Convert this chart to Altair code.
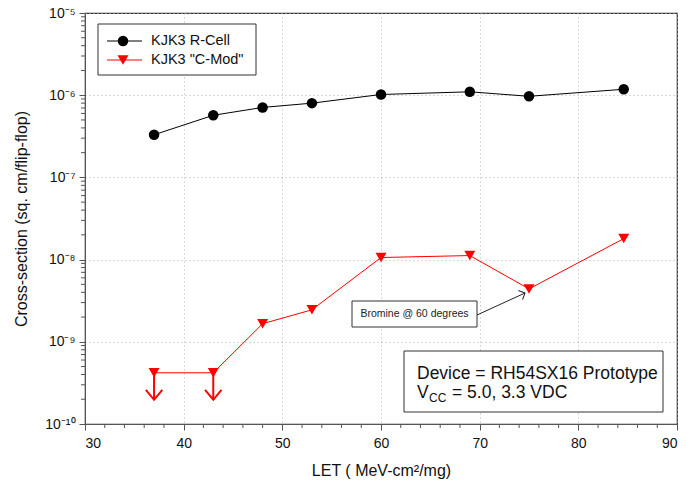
import json
import altair as alt
import pandas as pd

FONT = "Liberation Sans"

# ---- data ----
series_names = ["KJK3 R-Cell", 'KJK3 "C-Mod"']
let_r = [37, 43, 48, 53, 60, 69, 75, 84.6]
xs_r = [3.3e-7, 5.7e-7, 7.1e-7, 8.0e-7, 1.02e-6, 1.1e-6, 0.97e-6, 1.18e-6]
let_c = [37, 43, 48, 53, 60, 69, 75, 84.6]
xs_c = [4.2e-10, 4.2e-10, 1.66e-9, 2.45e-9, 1.06e-8, 1.12e-8, 4.4e-9, 1.8e-8]
limit_let = [37, 43]
limit_from = [4.2e-10, 4.2e-10]
limit_to = [1.97e-10, 1.97e-10]

x_ticks = [30, 40, 50, 60, 70, 80, 90]
x_minor = [v for v in range(30, 91, 2) if v % 10 != 0]
y_ticks = [1e-10, 1e-9, 1e-8, 1e-7, 1e-6, 1e-5]
y_labels = ["10⁻¹⁰", "10⁻⁹", "10⁻⁸", "10⁻⁷", "10⁻⁶", "10⁻⁵"]
y_minor = [m * 10.0 ** e for e in range(-10, -5) for m in range(2, 10)]

W, H = 592, 411

df_r = pd.DataFrame({"let": let_r, "xs": xs_r})
df_c = pd.DataFrame({"let": let_c, "xs": xs_c})
df_lim = pd.DataFrame({"let": limit_let, "lo": limit_to, "hi": limit_from})
one = pd.DataFrame({"k": [0]})

xscale = alt.Scale(domain=[30, 90], nice=False, zero=False)
yscale = alt.Scale(type="log", domain=[1e-10, 1e-5], nice=False)

label_expr = json.dumps(y_labels, ensure_ascii=False) + "[round(log(datum.value)/LN10)+10]"

xaxis = alt.Axis(values=x_ticks, title="LET ( MeV-cm²/mg)", grid=True,
                 gridDash=[1, 3], gridColor="#b0b0b0", tickSize=6,
                 labelFontSize=14, titleFontSize=16, labelPadding=6,
                 titlePadding=12, domainColor="#555", tickColor="#555",
                 labelColor="#111", titleColor="#111", format="d",
                 labelFont=FONT, titleFont=FONT, titleFontWeight="normal")
yaxis = alt.Axis(values=y_ticks, title="Cross-section (sq. cm/flip-flop)", grid=True,
                 gridDash=[1, 3], gridColor="#b0b0b0", tickSize=6,
                 labelFontSize=14, titleFontSize=16, labelPadding=4,
                 titlePadding=15, domainColor="#555", tickColor="#555",
                 labelColor="#111", titleColor="#111", labelExpr=label_expr,
                 labelFont=FONT, titleFont=FONT, titleFontWeight="normal")

X = lambda f: alt.X(f"{f}:Q", scale=xscale, axis=xaxis)
Y = lambda f: alt.Y(f"{f}:Q", scale=yscale, axis=yaxis)

# minor ticks
ymin_df = pd.DataFrame({"v": y_minor})
xmin_df = pd.DataFrame({"v": x_minor})
yminor = alt.Chart(ymin_df).mark_rule(color="#555").encode(
    y=Y("v"), x=alt.value(-4), x2=alt.value(0))
xminor = alt.Chart(xmin_df).mark_rule(color="#555").encode(
    x=X("v"), y=alt.value(H), y2=alt.value(H + 4))

line_r = alt.Chart(df_r).mark_line(color="black", strokeWidth=1).encode(x=X("let"), y=Y("xs"))
pts_r = alt.Chart(df_r).mark_point(shape="circle", filled=True, color="black", size=110, opacity=1).encode(
    x=X("let"), y=Y("xs"))
line_c = alt.Chart(df_c).mark_line(color="red", strokeWidth=1).encode(x=X("let"), y=Y("xs"))
pts_c = alt.Chart(df_c).mark_point(shape="triangle-down", filled=True, color="red", size=120, opacity=1).encode(
    x=X("let"), y=Y("xs"))
lim_rule = alt.Chart(df_lim).mark_rule(color="red", strokeWidth=2).encode(
    x=X("let"), y=Y("lo"), y2="hi:Q")
lim_head = alt.Chart(df_lim).mark_point(shape="M-1,-1.2L0,0L1,-1.2", filled=False, color="red",
                                        strokeWidth=2, size=270, opacity=1).encode(
    x=X("let"), y=Y("lo"))

# legend
leg_box = alt.Chart(one).mark_rect(fill="white", stroke="#333", strokeWidth=1).encode(
    x=alt.value(13), x2=alt.value(171), y=alt.value(11), y2=alt.value(62))
leg = [leg_box]
for i, (nm, col, shp, sz) in enumerate(zip(series_names, ["black", "red"],
                                           ["circle", "triangle-down"], [110, 120])):
    yy = 28 + 19 * i
    leg.append(alt.Chart(one).mark_rule(color=col, strokeWidth=1).encode(
        x=alt.value(22), x2=alt.value(57), y=alt.value(yy)))
    leg.append(alt.Chart(one).mark_point(shape=shp, filled=True, color=col, size=sz, opacity=1).encode(
        x=alt.value(38), y=alt.value(yy)))
    leg.append(alt.Chart(one).mark_text(align="left", baseline="middle", font=FONT, fontSize=14.5,
                                        color="#111").encode(
        x=alt.value(66), y=alt.value(yy), text=alt.value(nm)))

# Bromine annotation
bro_box = alt.Chart(one).mark_rect(fill="white", stroke="#333", strokeWidth=1).encode(
    x=alt.value(267), x2=alt.value(392), y=alt.value(288), y2=alt.value(314))
bro_txt = alt.Chart(one).mark_text(align="center", baseline="middle", font=FONT, fontSize=10.5,
                                   color="#222").encode(
    x=alt.value(329.5), y=alt.value(301), text=alt.value("Bromine @ 60 degrees"))
bro_arrow = alt.Chart(one).mark_rule(color="#222", strokeWidth=1).encode(
    x=alt.value(392), y=alt.value(302), x2=alt.value(440), y2=alt.value(280))
bro_head = alt.Chart(one).mark_point(shape="M-1,-1L0,0L-1,1", filled=False, color="#222",
                                     strokeWidth=1, size=100, angle=335.4, opacity=1).encode(
    x=alt.value(440), y=alt.value(280))

# Device box
dev_box = alt.Chart(one).mark_rect(fill="white", stroke="#333", strokeWidth=1).encode(
    x=alt.value(319), x2=alt.value(578), y=alt.value(338), y2=alt.value(399))
dev1 = alt.Chart(one).mark_text(align="left", baseline="alphabetic", font=FONT, fontSize=17.5,
                                color="#111").encode(
    x=alt.value(332), y=alt.value(366), text=alt.value("Device = RH54SX16 Prototype"))
dev2a = alt.Chart(one).mark_text(align="left", baseline="alphabetic", font=FONT, fontSize=17.5,
                                 color="#111").encode(
    x=alt.value(332), y=alt.value(385), text=alt.value("V"))
dev2b = alt.Chart(one).mark_text(align="left", baseline="alphabetic", font=FONT, fontSize=12,
                                 color="#111").encode(
    x=alt.value(344), y=alt.value(389), text=alt.value("CC"))
dev2c = alt.Chart(one).mark_text(align="left", baseline="alphabetic", font=FONT, fontSize=17.5,
                                 color="#111").encode(
    x=alt.value(367), y=alt.value(385), text=alt.value("= 5.0, 3.3 VDC"))

chart = alt.layer(
    yminor, xminor, line_r, line_c, lim_rule, lim_head, pts_r, pts_c,
    *leg, bro_box, bro_txt, bro_arrow, bro_head, dev_box, dev1, dev2a, dev2b, dev2c
).properties(
    width=W, height=H,
    autosize=alt.AutoSizeParams(type="none"),
    padding={"left": 85, "top": 13, "right": 21, "bottom": 67},
    background="white",
).configure_view(stroke="#333", strokeWidth=1.2)

chart.save("out.html", embed_options={"renderer": "svg", "actions": False})
